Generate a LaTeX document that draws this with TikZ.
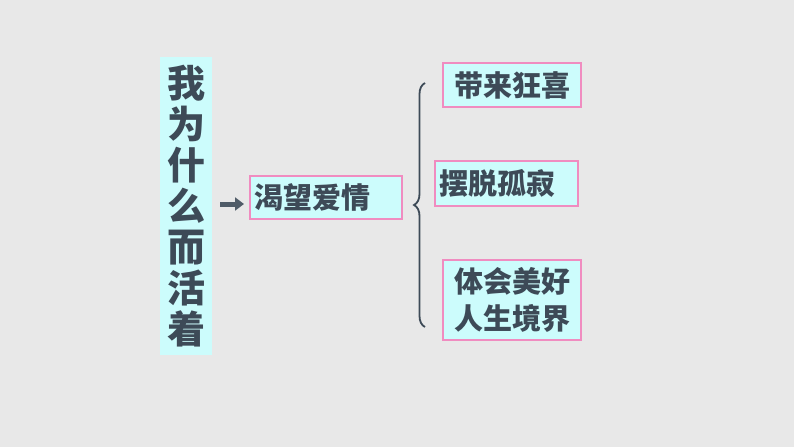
\documentclass[tikz,border=0pt]{standalone}
\usepackage{fontspec}
\newfontfamily\cjk{Noto Sans CJK SC Black}
\usetikzlibrary{arrows.meta, decorations.pathreplacing, positioning}
\definecolor{boxfill}{HTML}{CCFCFC}
\definecolor{boxline}{HTML}{F08CC0}
\definecolor{ink}{HTML}{3D4A57}
\begin{document}
\begin{tikzpicture}[x=1pt, y=-1pt, font=\cjk, text=ink,
  item/.style={
    draw=boxline,
    line width=2.2pt,
    fill=boxfill,
    inner sep=0pt,
    align=center,
    font=\cjk\fontsize{29}{35}\selectfont
  },
  line/.style={-{Triangle[length=9pt, width=13pt]}, line width=5pt, draw=ink!90},
  bracestyle/.style={decorate, decoration={brace, amplitude=11pt}, line width=1.8pt, draw=ink}
  ]
\fill[gray!18] (0,0) rectangle (794,447);

% Title column
\node[fill=boxfill, minimum width=52pt, minimum height=298pt, inner sep=0pt,
  align=center, font=\cjk\fontsize{38}{41}\selectfont] (title) at (186,206)
  {我\\为\\什\\么\\而\\活\\着};

% Boxes
\node[item, minimum width=152pt, minimum height=43pt, text width=144pt, align=left] (love) at (326,197.5) {渴望爱情};
\node[item, minimum width=138pt, minimum height=44pt] (joy) at (512,85) {带来狂喜};
\node[item, minimum width=143pt, minimum height=45pt, text width=135pt, align=left] (lonely) at (506.5,183.5) {摆脱孤寂};
\node[item, minimum width=138pt, minimum height=80pt, font=\cjk\fontsize{29}{37}\selectfont] (life) at (512,300) {体会美好\\人生境界};

% Arrow and brace
\coordinate (a0) at (220,204);
\coordinate (a1) at (244,204);
\draw[line] (a0) -- (a1);
\coordinate (btop) at (425,83);
\coordinate (bbot) at (425,327);
\draw[bracestyle] (bbot) -- (btop);
\end{tikzpicture}
\end{document}
